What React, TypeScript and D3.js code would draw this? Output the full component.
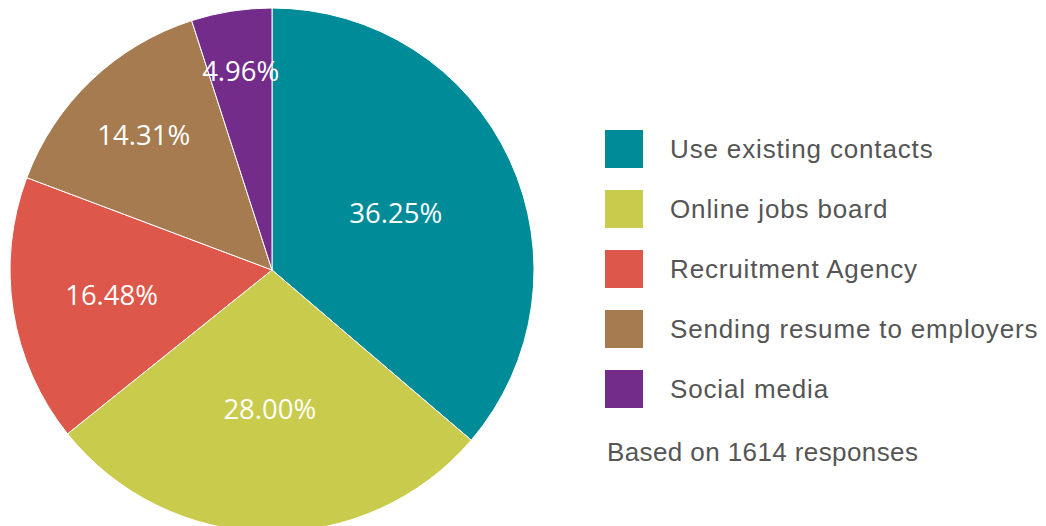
import * as d3 from "d3";
import { useEffect, useRef } from "react";

// chart data
const categories = [
  "Use existing contacts",
  "Online jobs board",
  "Recruitment Agency",
  "Sending resume to employers",
  "Social media",
];
const values = [36.25, 28.0, 16.48, 14.31, 4.96];
const colors = ["#008b99", "#c9cb4d", "#dd574a", "#a67b4f", "#732c89"];
const note = "Based on 1614 responses";
// how far out (fraction of radius) each slice label sits
const labelOffsets = [0.52, 0.53, 0.62, 0.71, 0.77];

export default function App() {
  const ref = useRef<SVGSVGElement>(null);

  useEffect(() => {
    const width = 1046;
    const height = 526;
    const radius = 262;
    const cx = 272;
    const cy = 270;

    const svg = d3.select(ref.current);
    svg.selectAll("*").remove();

    const pie = d3
      .pie<number>()
      .sort(null)
      .value((d) => d);
    const arcs = pie(values);

    const arc = d3.arc<d3.PieArcDatum<number>>().innerRadius(0).outerRadius(radius);

    const g = svg.append("g").attr("transform", "translate(" + cx + "," + cy + ")");

    g.selectAll("path")
      .data(arcs)
      .enter()
      .append("path")
      .attr("d", arc)
      .attr("fill", (d, i) => colors[i])
      .attr("stroke", "#ffffff")
      .attr("stroke-width", 1);

    g.selectAll("text")
      .data(arcs)
      .enter()
      .append("text")
      .attr("transform", (d, i) => {
        const r = radius * labelOffsets[i];
        const c = d3.arc<d3.PieArcDatum<number>>().innerRadius(r).outerRadius(r).centroid(d);
        return "translate(" + c[0] + "," + c[1] + ")";
      })
      .attr("text-anchor", "middle")
      .attr("dy", "0.36em")
      .attr("fill", "#ffffff")
      .style("font-family", "'Open Sans', sans-serif")
      .style("font-size", "27.5px")
      .text((d) => d.data.toFixed(2) + "%");

    // legend
    const legend = svg.append("g").attr("transform", "translate(605,130)");
    const y = d3.scaleBand<number>().domain(d3.range(categories.length)).range([0, 300]);

    const item = legend
      .selectAll("g")
      .data(categories)
      .enter()
      .append("g")
      .attr("transform", (d, i) => "translate(0," + y(i) + ")");

    item
      .append("rect")
      .attr("width", 38)
      .attr("height", 38)
      .attr("fill", (d, i) => colors[i]);

    item
      .append("text")
      .attr("x", 65)
      .attr("y", 19)
      .attr("dy", "0.36em")
      .attr("fill", "#555555")
      .style("font-family", "'Liberation Sans', Arial, sans-serif")
      .style("font-size", "26px")
      .style("letter-spacing", "0.85px")
      .text((d) => d);

    legend
      .append("text")
      .attr("x", 2)
      .attr("y", 322)
      .attr("dy", "0.36em")
      .attr("fill", "#555555")
      .style("font-family", "'Liberation Sans', Arial, sans-serif")
      .style("font-size", "26px")
      .style("letter-spacing", "0.4px")
      .text(note);

    svg.attr("width", width).attr("height", height);
  }, []);

  return (
    <div style={{ position: "absolute", left: 0, top: 0 }}>
      <svg ref={ref} width={1046} height={526}></svg>
    </div>
  );
}
